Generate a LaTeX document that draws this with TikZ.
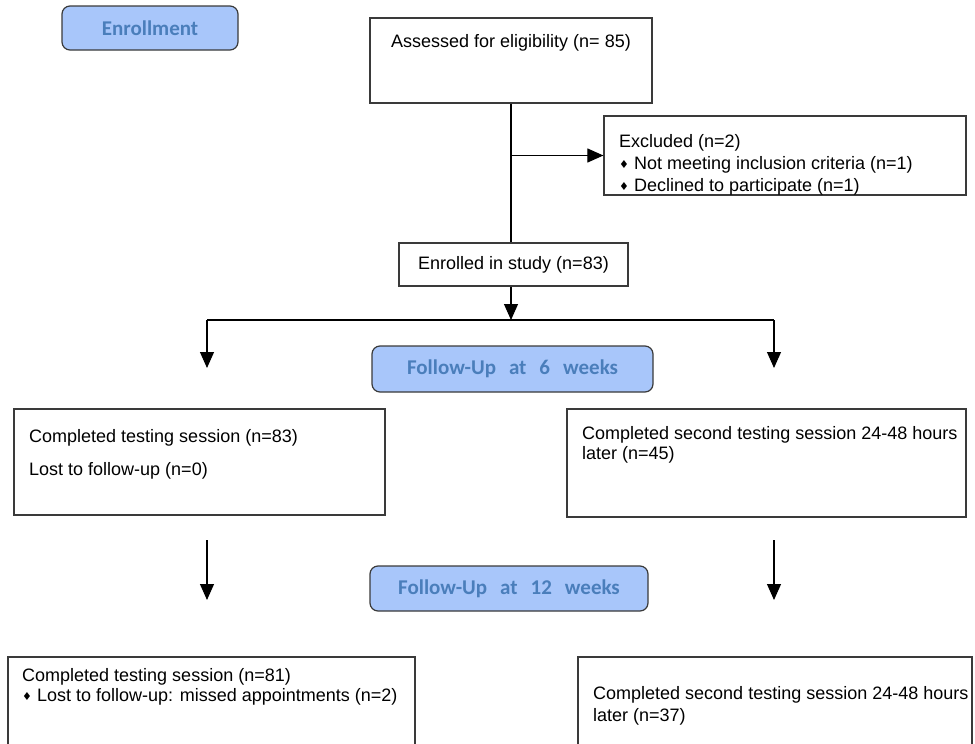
\documentclass[tikz,border=0pt]{standalone}
\usepackage{fontspec}
\setmainfont{Liberation Sans}
\newfontfamily\headfont{Carlito}
\newfontfamily\symfont{DejaVu Sans}
\usetikzlibrary{arrows.meta}

\definecolor{headfill}{HTML}{A8C6FA}
\definecolor{headtext}{HTML}{4A7EBB}
\definecolor{edge}{HTML}{3A3A3A}

\tikzset{
  plainbox/.style={draw=edge, line width=1.2pt, inner sep=0pt},
  headbox/.style={draw=edge, line width=1.2pt, fill=headfill, rounded corners=8pt, inner sep=0pt,
    font=\headfont\bfseries\fontsize{21}{24}\selectfont, text=headtext},
  bodytext/.style={inner sep=0pt, align=left, anchor=north west,
    font=\fontsize{18}{22}\selectfont},
  flow/.style={line width=1.1pt, draw=black},
  flowarrow/.style={flow, -{Triangle[length=16pt, width=14pt]}}
}
\newcommand{\bul}{{\symfont\fontsize{11}{12}\selectfont\raisebox{1pt}{♦}}\hspace{5pt}}

\begin{document}
\begin{tikzpicture}[x=1pt, y=-1pt]
\useasboundingbox (0,0) rectangle (975,744);

% stage banners
\node[headbox, minimum width=176, minimum height=44] (enroll) at (150,28) {Enrollment};
\node[headbox, minimum width=281, minimum height=46] (fu6) at (512.5,369) {Follow-Up\hspace{13pt}at\hspace{13pt}6\hspace{13pt}weeks};
\node[headbox, minimum width=278, minimum height=45] (fu12) at (509,588.5) {Follow-Up\hspace{13pt}at\hspace{13pt}12\hspace{13pt}weeks};

% boxes
\node[plainbox, minimum width=282, minimum height=85] (assess) at (511,60.5) {};
\node[bodytext, anchor=north] (assesst) at (511,34) {Assessed for eligibility (n= 85)};

\node[plainbox, minimum width=362, minimum height=79] (excl) at (785,155.5) {};
\node[bodytext] (exclt) at (619,134) {Excluded (n=2)\\\bul Not meeting inclusion criteria (n=1)\\\bul Declined to participate (n=1)};

\node[plainbox, minimum width=229, minimum height=43] (enrol) at (513.5,264.5) {};
\node[bodytext, anchor=center] (enrolt) at (513.5,264.5) {Enrolled in study (n=83)};

\node[plainbox, minimum width=371, minimum height=106] (c6l) at (199.5,462) {};
\node[bodytext] (c6lt) at (29,429) {Completed testing session (n=83)\\[11pt]Lost to follow-up (n=0)};

\node[plainbox, minimum width=399, minimum height=108] (c6r) at (766.5,463) {};
\node[bodytext] (c6rt) at (582,426) {Completed second testing session 24-48 hours\\[-2pt]later (n=45)};

\node[plainbox, minimum width=407, minimum height=120] (c12l) at (211.5,717) {};
\node[bodytext] (c12lt) at (22,668) {Completed testing session (n=81)\\[-2pt]\bul Lost to follow-up: missed appointments (n=2)};

\node[plainbox, minimum width=394, minimum height=120] (c12r) at (775,717) {};
\node[bodytext] (c12rt) at (593,686) {Completed second testing session 24-48 hours\\later (n=37)};

% connectors
\coordinate (split) at (assess.south |- 0,320);
\coordinate (splitl) at (207,320);
\coordinate (splitr) at (774,320);
\coordinate (tipl) at (207,368);
\coordinate (tipr) at (774,368);
\coordinate (midl1) at (207,540);
\coordinate (midl2) at (207,600);
\coordinate (midr1) at (774,540);
\coordinate (midr2) at (774,600);

\draw[flow] (assess.south) -- (assess.south |- enrol.north);
\draw[flowarrow] (assess.south |- excl.west) -- (excl.west);
\draw[flowarrow] (enrol.south -| assess.south) -- (split);
\draw[flow] (splitl) -- (splitr);
\draw[flowarrow] (splitl) -- (tipl);
\draw[flowarrow] (splitr) -- (tipr);
\draw[flowarrow] (midl1) -- (midl2);
\draw[flowarrow] (midr1) -- (midr2);
\end{tikzpicture}
\end{document}
